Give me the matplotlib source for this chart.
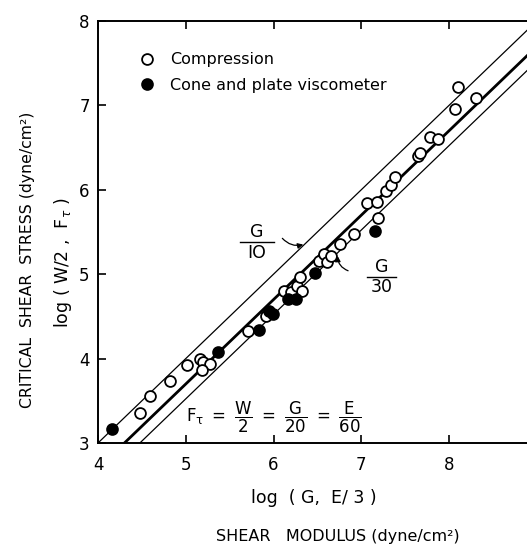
import matplotlib
matplotlib.use("Agg")
import matplotlib.pyplot as plt
import numpy as np

# ---- data ----
comp_x = [4.48, 4.59, 4.82, 5.01, 5.16, 5.20, 5.28, 5.18, 5.71, 5.91, 6.12, 6.20,
          6.27, 6.32, 6.30, 6.52, 6.58, 6.61, 6.66, 6.76, 6.92, 7.19, 7.06, 7.18,
          7.28, 7.34, 7.38, 7.65, 7.67, 7.78, 7.88, 8.07, 8.10, 8.31]
comp_y = [3.35, 3.56, 3.74, 3.92, 4.00, 3.96, 3.94, 3.86, 4.33, 4.50, 4.80, 4.79,
          4.86, 4.80, 4.97, 5.16, 5.24, 5.14, 5.22, 5.36, 5.48, 5.67, 5.84, 5.86,
          5.99, 6.06, 6.15, 6.40, 6.44, 6.63, 6.60, 6.96, 7.22, 7.09]

cone_x = [4.16, 5.37, 5.83, 5.95, 5.99, 6.17, 6.26, 6.47, 7.16]
cone_y = [3.16, 4.08, 4.34, 4.56, 4.53, 4.71, 4.71, 5.02, 5.51]

# reference lines: log(W/2) = log G - log(divisor)
line_divisors = [10, 20, 30]
line_widths = [0.9, 2.0, 0.9]
x_line = [3.0, 10.0]

x_ticks = [4, 5, 6, 7, 8]
y_ticks = [3, 4, 5, 6, 7, 8]

fig = plt.figure(figsize=(5.27, 5.45), dpi=100)
ax = fig.add_axes([98/527, 102/545, 1 - 98/527, (443-21)/545])
ax.set_xlim(4, 4 + 429/87.75)
ax.set_ylim(3, 8)

for d, lw in zip(line_divisors, line_widths):
    off = np.log10(d)
    ax.plot(x_line, [x - off for x in x_line], color='black', lw=lw, zorder=2)

ax.plot(comp_x, comp_y, 'o', ms=7.8, mfc='white', mec='black', mew=1.3,
        zorder=3, label='Compression', clip_on=False)
ax.plot(cone_x, cone_y, 'o', ms=7.8, mfc='black', mec='black', mew=1.3,
        zorder=4, label='Cone and plate viscometer', clip_on=False)

leg = ax.legend(loc='upper left', bbox_to_anchor=(0.062, 0.96), frameon=False,
                handlelength=1.0, handletextpad=0.95, labelspacing=0.65,
                fontsize=11.5, numpoints=1)

ax.spines['right'].set_visible(False)
for s in ['left', 'top', 'bottom']:
    ax.spines[s].set_linewidth(1.4)

ax.set_xticks(x_ticks)
ax.set_yticks(y_ticks)
ax.set_xticklabels([str(t) for t in x_ticks])
ax.set_yticklabels([str(t) for t in y_ticks])
ax.tick_params(axis='both', direction='in', length=6, width=1.2, labelsize=12)
ax.tick_params(axis='x', top=True, pad=9)
ax.tick_params(axis='y', pad=6)

# fraction labels for lines
def frac(x, y, num, den, width, fs=12.5):
    ax.text(x, y + 0.115, num, ha='center', va='center', fontsize=fs)
    ax.text(x, y - 0.125, den, ha='center', va='center', fontsize=fs)
    ax.plot([x - width/2, x + width/2], [y, y], color='black', lw=1.0, clip_on=False)

frac(5.81, 5.38, 'G', 'IO', 0.38)
frac(7.23, 4.97, 'G', '30', 0.34)

# squiggle arrows
ax.annotate('', xy=(6.37, 5.36), xytext=(6.08, 5.45),
            arrowprops=dict(arrowstyle='-|>', color='black', lw=0.9,
                            connectionstyle='arc3,rad=0.35', mutation_scale=8))
ax.annotate('', xy=(6.73, 5.25), xytext=(6.88, 5.03),
            arrowprops=dict(arrowstyle='-|>', color='black', lw=0.9,
                            connectionstyle='arc3,rad=-0.4', mutation_scale=8))

ax.text(6.0, 3.30, r'$\mathregular{F_{\tau}\ =\ \dfrac{W}{2}\ =\ \dfrac{G}{20}\ =\ \dfrac{E}{60}}$',
        ha='center', va='center', fontsize=12)

fig.text(314/527, 1 - 498/545, 'log  ( G,  E/ 3 )', ha='center', va='center', fontsize=12.5)
fig.text(338/527, 1 - 537/545, 'SHEAR   MODULUS (dyne/cm²)', ha='center', va='center', fontsize=11.5)
fig.text(28/527, 1 - 260/545, 'CRITICAL  SHEAR  STRESS (dyne/cm²)', ha='center', va='center',
         rotation=90, fontsize=11.3)
fig.text(63/527, 1 - 263/545, r'log ( W/2 ,  F$_{\tau}$ )', ha='center', va='center',
         rotation=90, fontsize=12.5)

fig.savefig('out.png', dpi=100)
